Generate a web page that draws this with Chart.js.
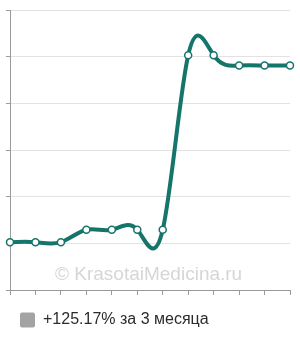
<!DOCTYPE html>
<html>
<head>
<meta charset="utf-8">
<script src="https://cdn.jsdelivr.net/npm/chart.js@4.4.1/dist/chart.umd.min.js"></script>
<style>
    html, body { margin: 0; padding: 0; background: #fff; }
    #wrap { width: 300px; height: 340px; }
</style>
</head>
<body>
<div id="wrap"><canvas id="chart"></canvas></div>
<script>
// weekly values over 3 months
const weeks = ['1', '2', '3', '4', '5', '6', '7', '8', '9', '10', '11', '12'];
const values = [30.25, 30.25, 30.25, 32.9, 32.9, 32.9, 32.9, 70.3, 70.3, 68.1, 68.1, 68.1];
const seriesLabel = '+125.17% за 3 месяца';
const yMin = 20;
const yMax = 80;
const yStep = 10;

const lineColor = '#16756b';
const legendColor = '#a3a3a3';

Chart.defaults.font.family = "'Liberation Sans', Arial, sans-serif";
Chart.defaults.color = '#333';

// the curve in the original is a natural cubic spline, so swap chart.js control points for that
const naturalSpline = {
    id: 'naturalSpline',
    beforeDatasetDraw(chart, args) {
        const line = args.meta.dataset;
        const pts = args.meta.data;
        const n = pts.length;
        if (n < 3) return;

        const x = pts.map(p => p.x);
        const y = pts.map(p => p.y);
        const h = [];
        for (let i = 0; i < n - 1; i++) h[i] = x[i + 1] - x[i];

        const M = new Array(n).fill(0);
        const b = [], c = [], d = [];
        for (let i = 1; i < n - 1; i++) {
            b[i] = 2 * (h[i - 1] + h[i]);
            c[i] = h[i];
            d[i] = 6 * ((y[i + 1] - y[i]) / h[i] - (y[i] - y[i - 1]) / h[i - 1]);
        }
        for (let i = 2; i < n - 1; i++) {
            const w = h[i - 1] / b[i - 1];
            b[i] -= w * c[i - 1];
            d[i] -= w * d[i - 1];
        }
        for (let i = n - 2; i >= 1; i--) {
            M[i] = (d[i] - c[i] * M[i + 1]) / b[i];
        }

        pts.forEach((p, i) => {
            let m;
            if (i < n - 1) m = (y[i + 1] - y[i]) / h[i] - h[i] * (2 * M[i] + M[i + 1]) / 6;
            else m = (y[i] - y[i - 1]) / h[i - 1] + h[i - 1] * (M[i - 1] + 2 * M[i]) / 6;
            const hp = i > 0 ? h[i - 1] : 0;
            const hn = i < n - 1 ? h[i] : 0;
            p.cp1x = p.x - hp / 3;
            p.cp1y = p.y - m * hp / 3;
            p.cp2x = p.x + hn / 3;
            p.cp2y = p.y + m * hn / 3;
        });
        line._pointsUpdated = true;
        line._path = undefined;
    }
};

const watermark = {
    id: 'watermark',
    beforeDatasetsDraw(chart) {
        const { ctx, chartArea } = chart;
        ctx.save();
        ctx.font = "19px 'Liberation Sans', Arial, sans-serif";
        ctx.fillStyle = '#d6d6d6';
        ctx.textBaseline = 'alphabetic';
        ctx.fillText('© KrasotaiMedicina.ru', chartArea.left + 45, chartArea.bottom - 10);
        ctx.restore();
    }
};

new Chart(document.getElementById('chart'), {
    type: 'line',
    data: {
        labels: weeks,
        datasets: [{
            label: seriesLabel,
            data: values,
            borderColor: lineColor,
            backgroundColor: legendColor,
            borderWidth: 4,
            tension: 0.4,
            fill: false,
            clip: false,
            pointRadius: 3.5,
            pointBorderWidth: 1.5,
            pointBackgroundColor: '#fff',
            pointBorderColor: lineColor
        }]
    },
    options: {
        responsive: true,
        maintainAspectRatio: false,
        animation: false,
        layout: { padding: { left: 6, right: 10, top: 10, bottom: 2 } },
        scales: {
            x: {
                ticks: { display: false },
                grid: { drawOnChartArea: false, tickLength: 5, tickColor: '#9a9a9a' },
                border: { color: '#9a9a9a' },
                afterFit: s => { s.height = 8; }
            },
            y: {
                min: yMin,
                max: yMax,
                ticks: { display: false, stepSize: yStep },
                grid: { color: '#e2e2e2', tickLength: 4, tickColor: '#9a9a9a' },
                border: { color: '#9a9a9a' }
            }
        },
        plugins: {
            tooltip: { enabled: false },
            legend: {
                position: 'bottom',
                align: 'start',
                labels: {
                    padding: 14,
                    boxWidth: 15,
                    boxHeight: 15,
                    font: { size: 16 },
                    color: '#2b2b2b',
                    useBorderRadius: true,
                    borderRadius: 2,
                    generateLabels: chart => Chart.defaults.plugins.legend.labels.generateLabels(chart).map(item => ({
                        ...item,
                        fillStyle: legendColor,
                        strokeStyle: legendColor,
                        lineWidth: 0
                    }))
                }
            }
        }
    },
    plugins: [naturalSpline, watermark]
});
</script>
</body>
</html>
